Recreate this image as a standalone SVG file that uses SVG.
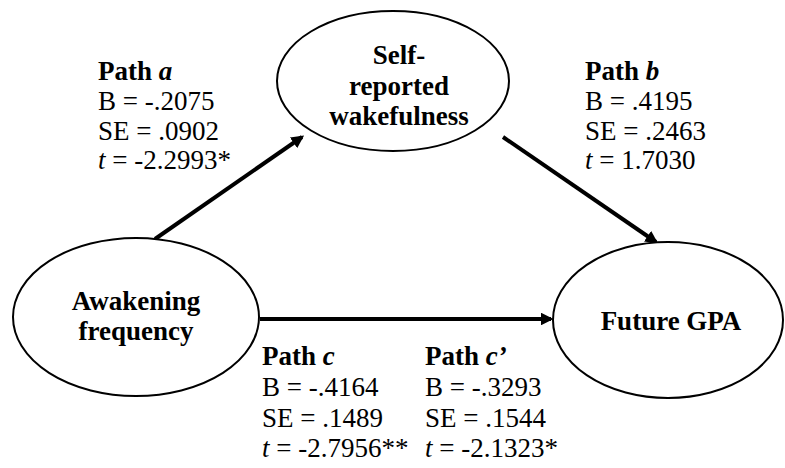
<svg xmlns="http://www.w3.org/2000/svg" width="785" height="468" viewBox="0 0 785 468" font-family="'Liberation Serif', 'Times New Roman', Tinos, 'DejaVu Serif', serif">
<defs>
<marker id="ah" viewBox="0 0 10 10" refX="8" refY="5" markerWidth="3.2" markerHeight="3.2" markerUnits="strokeWidth" orient="auto">
<path d="M0,0 L10,5 L0,10 z" fill="#000"/>
</marker>
<style>
.node{fill:#fff;stroke:#000;stroke-width:2}
.lbl{font-size:27px;font-weight:bold;text-anchor:middle;fill:#000}
.st{font-size:27px;fill:#000}
.b{font-weight:bold}
.edge{stroke:#000;stroke-width:4;fill:none;marker-end:url(#ah)}
</style>
</defs>
<rect width="785" height="468" fill="#fff"/>
<g id="connectors">
<line class="edge" x1="155" y1="239" x2="302" y2="137"/>
<line class="edge" x1="503" y1="137" x2="656" y2="242"/>
<line class="edge" x1="260" y1="319" x2="551" y2="319"/>
</g>
<g id="node-wakefulness">
<ellipse class="node" cx="393" cy="81" rx="116" ry="70"/>
<text class="lbl" x="399" y="64">Self-</text>
<text class="lbl" x="399" y="95">reported</text>
<text class="lbl" x="399" y="125">wakefulness</text>
</g>
<g id="node-awakening">
<ellipse class="node" cx="136" cy="317" rx="123" ry="79"/>
<text class="lbl" x="136" y="310">Awakening</text>
<text class="lbl" x="136" y="340">frequency</text>
</g>
<g id="node-gpa">
<ellipse class="node" cx="668" cy="320" rx="115" ry="78"/>
<text class="lbl" x="671" y="330">Future GPA</text>
</g>
<g id="label-a">
<text class="st" x="98" y="80"><tspan class="b">Path <tspan font-style="italic">a</tspan></tspan></text>
<text class="st" x="98" y="110">B = -.2075</text>
<text class="st" x="98" y="140">SE = .0902</text>
<text class="st" x="98" y="169"><tspan font-style="italic">t</tspan> = -2.2993*</text>
</g>
<g id="label-b">
<text class="st" x="585" y="80"><tspan class="b">Path <tspan font-style="italic">b</tspan></tspan></text>
<text class="st" x="585" y="110">B = .4195</text>
<text class="st" x="585" y="140">SE = .2463</text>
<text class="st" x="585" y="169"><tspan font-style="italic">t</tspan> = 1.7030</text>
</g>
<g id="label-c">
<text class="st" x="262" y="365"><tspan class="b">Path <tspan font-style="italic">c</tspan></tspan></text>
<text class="st" x="262" y="396">B = -.4164</text>
<text class="st" x="262" y="427">SE = .1489</text>
<text class="st" x="262" y="457"><tspan font-style="italic">t</tspan> = -2.7956**</text>
</g>
<g id="label-c-prime">
<text class="st" x="425" y="365"><tspan class="b">Path <tspan font-style="italic">c’</tspan></tspan></text>
<text class="st" x="425" y="396">B = -.3293</text>
<text class="st" x="425" y="427">SE = .1544</text>
<text class="st" x="425" y="457"><tspan font-style="italic">t</tspan> = -2.1323*</text>
</g>
</svg>
